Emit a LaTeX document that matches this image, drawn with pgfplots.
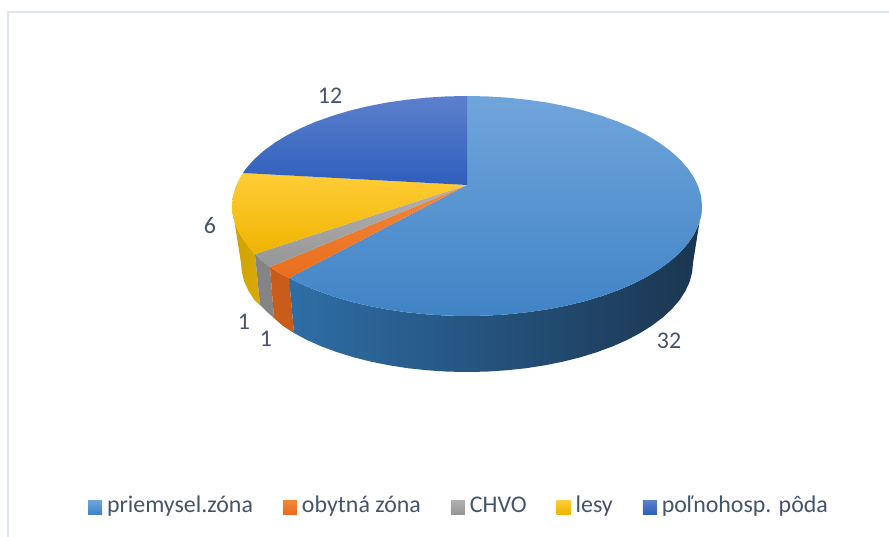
\documentclass[border=0pt]{standalone}
\usepackage{fontspec}
\setmainfont{Carlito}
\usepackage{pgfplots}
\pgfplotsset{compat=1.18}
\definecolor{txt}{HTML}{44546A}
\definecolor{frame}{HTML}{DEE4EC}
\begin{document}
\begin{tikzpicture}
\useasboundingbox (0,0) rectangle (889bp,537bp);
\begin{axis}[
  at={(0,0)},anchor=south west,scale only axis,width=889bp,height=537bp,
  xmin=0,xmax=889,ymin=0,ymax=537,y dir=reverse,hide axis,clip=false,
  legend columns=5,
  legend cell align=left,
  legend image code/.code={\path[#1,draw=none] (0bp,-7bp) rectangle (14bp,7bp);},
  legend style={draw=none,fill=none,at={(axis cs:458,507)},anchor=center,
    font=\fontsize{24}{26}\selectfont\color{txt},inner sep=0pt,
    nodes={inner sep=0pt,text height=15bp,text depth=5bp},
    /tikz/every even column/.style={column sep=30bp},
    /tikz/every odd column/.style={column sep=5bp},
    column sep=0bp},
]
% frame
\addplot[frame,line width=1.6bp,forget plot] coordinates {(889,12) (8,12) (8,537)};
% sides
\addplot[draw=none,forget plot,left color={rgb,255:red,205;green,160;blue,5},right color={rgb,255:red,218;green,170;blue,5}] coordinates {
(255,254)(246.2,243.6)(240,234.5)(235.6,225.1)(232.9,215.6)(232,206)(241,263)(241.9,272.5)(244.4,281.9)(248.7,291.2)(254.6,300.3)(260,305)} --cycle;
\addplot[draw=none,fill={rgb,255:red,132;green,132;blue,132},forget plot] coordinates {
(270,267)(262,260.8)(255,254)(260,305)(266,311)(274,318)} --cycle;
\addplot[draw=none,fill={rgb,255:red,200;green,92;blue,24},forget plot] coordinates {
(289,278)(279,272.8)(270,267)(274,318)(283,326)(294,333)} --cycle;
\addplot[draw=none,forget plot,left color={rgb,255:red,46;green,110;blue,166},middle color={rgb,255:red,37;green,70;blue,106},right color={rgb,255:red,27;green,53;blue,80}] coordinates {
(702,206)(701.1,215.6)(698.4,225.1)(694,234.5)(687.8,243.6)(680,252.5)(670.5,261)(659.5,269.1)(647,276.7)(633.2,283.8)(618.1,290.3)(601.8,296.1)(584.5,301.3)(566.3,305.7)(547.4,309.4)(527.8,312.2)(507.8,314.3)(487.5,315.6)(467,316)(446.5,315.6)(426.2,314.3)(406.2,312.2)(386.6,309.4)(367.7,305.7)(349.5,301.3)(332.2,296.1)(315.9,290.3)(300.8,283.8)(289,278)
(294,333)(307.2,340.1)(321.7,346.5)(337.4,352.3)(354,357.4)(371.5,361.8)(389.7,365.4)(408.5,368.3)(427.8,370.3)(447.3,371.6)(467,372)(486.7,371.6)(506.2,370.3)(525.5,368.3)(544.3,365.4)(562.5,361.8)(580,357.4)(596.6,352.3)(612.3,346.5)(626.8,340.1)(640.1,333.1)(652.1,325.5)(662.7,317.5)(671.8,309.1)(679.4,300.3)(685.3,291.2)(689.6,281.9)(692.1,272.5)(693,263)} --cycle;
% tops
\addplot[draw=none,top color={rgb,255:red,112;green,165;blue,219},middle color={rgb,255:red,75;green,147;blue,216},bottom color={rgb,255:red,64;green,132;blue,198}] coordinates {
(467,185)(467,96)(487.5,96.4)(507.8,97.7)(527.8,99.8)(547.4,102.6)(566.3,106.3)(584.5,110.7)(601.8,115.9)(618.1,121.7)(633.2,128.2)(647,135.3)(659.5,142.9)(670.5,151)(680,159.5)(687.8,168.4)(694,177.5)(698.4,186.9)(701.1,196.4)(702,206)(701.1,215.6)(698.4,225.1)(694,234.5)(687.8,243.6)(680,252.5)(670.5,261)(659.5,269.1)(647,276.7)(633.2,283.8)(618.1,290.3)(601.8,296.1)(584.5,301.3)(566.3,305.7)(547.4,309.4)(527.8,312.2)(507.8,314.3)(487.5,315.6)(467,316)(446.5,315.6)(426.2,314.3)(406.2,312.2)(386.6,309.4)(367.7,305.7)(349.5,301.3)(332.2,296.1)(315.9,290.3)(300.8,283.8)(289,278)} --cycle;
\addlegendentry{priemysel.zóna}
\addplot[draw=none,top color={rgb,255:red,244;green,135;blue,60},bottom color={rgb,255:red,232;green,110;blue,28}] coordinates {
(467,185)(289,278)(279,272.8)(270,267)} --cycle;
\addlegendentry{obytná zóna}
\addplot[draw=none,top color={rgb,255:red,178;green,178;blue,178},bottom color={rgb,255:red,150;green,150;blue,150}] coordinates {
(467,185)(270,267)(262,260.8)(255,254)} --cycle;
\addlegendentry{CHVO}
\addplot[draw=none,top color={rgb,255:red,255;green,205;blue,55},middle color={rgb,255:red,255;green,192;blue,0},bottom color={rgb,255:red,240;green,180;blue,0}] coordinates {
(467,185)(255,254)(246.2,243.6)(240,234.5)(235.6,225.1)(232.9,215.6)(232,206)(232.9,196.4)(235.6,186.9)(240,177.5)(243,173)} --cycle;
\addlegendentry{lesy}
\addplot[draw=none,top color={rgb,255:red,92;green,128;blue,204},bottom color={rgb,255:red,46;green,94;blue,188}] coordinates {
(467,185)(243,173)(246.2,168.4)(254,159.5)(263.5,151)(274.5,142.9)(287,135.3)(300.8,128.2)(315.9,121.7)(332.2,115.9)(349.5,110.7)(367.7,106.3)(386.6,102.6)(406.2,99.8)(426.2,97.7)(446.5,96.4)(467,96)} --cycle;
\addlegendentry{poľnohosp. pôda}
% value labels
\addplot[draw=none,mark=none,forget plot,point meta=explicit symbolic,
  nodes near coords,nodes near coords align={center},
  every node near coord/.style={anchor=center,inner sep=0pt,text=txt,font=\fontsize{24}{26}\selectfont}]
  table[meta=v] {
x y v
669 341 32
266 339 1
244 322 1
210 226 6
330 96 12
};
\end{axis}
\end{tikzpicture}
\end{document}
